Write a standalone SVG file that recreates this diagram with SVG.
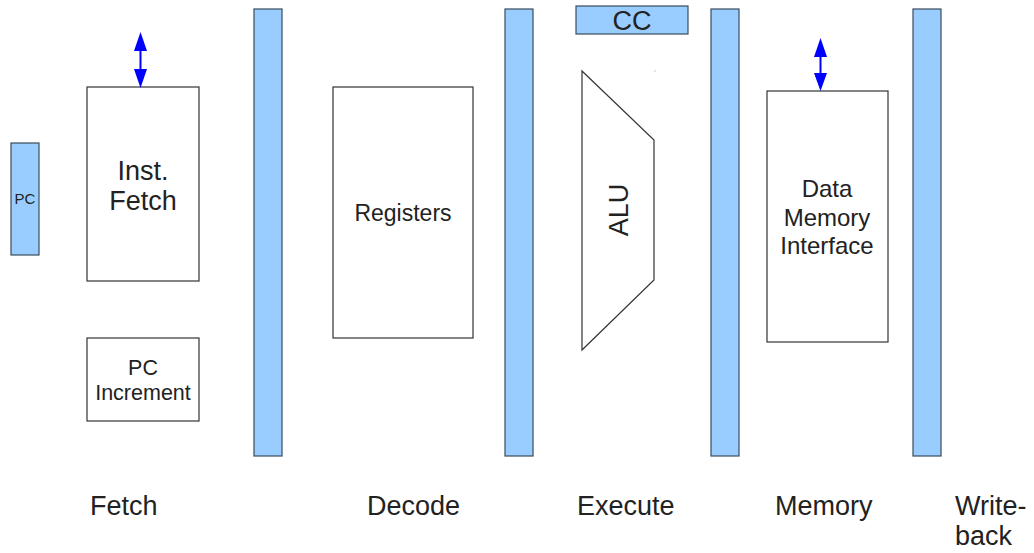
<svg xmlns="http://www.w3.org/2000/svg" width="1034" height="553" viewBox="0 0 1034 553">
<style>
.bar{fill:#99ccff;stroke:#3b4b5b;stroke-width:1.2}
.box{fill:#fff;stroke:#333;stroke-width:1.2}
text{font-family:"Liberation Sans",Arial,sans-serif;fill:#222;text-anchor:middle}
.big{font-size:27px}
.mid{font-size:22px}
.lbl{font-size:27px;text-anchor:start}
.arr{stroke:#0000ff;stroke-width:2;fill:none}
.head{fill:#0000ff}
</style>
<rect width="1034" height="553" fill="#fff"/>
<g id="pc"><rect class="bar" x="11" y="143" width="28" height="112"/><text x="25" y="204" style="font-size:15px">PC</text></g>
<g id="inst-fetch"><rect class="box" x="87" y="87" width="112" height="194"/><text class="big" x="143" y="180">Inst.</text><text class="big" x="143" y="210">Fetch</text></g>
<g id="pc-increment"><rect class="box" x="87" y="338" width="112" height="83"/><text class="mid" x="143" y="375" style="font-size:21.5px">PC</text><text class="mid" x="143" y="400" style="font-size:21.5px">Increment</text></g>
<g id="bar1"><rect class="bar" x="254" y="9" width="28" height="447"/></g>
<g id="registers"><rect class="box" x="333" y="87" width="140" height="251"/><text class="mid" x="403" y="221" style="font-size:23px">Registers</text></g>
<g id="bar2"><rect class="bar" x="505" y="9" width="28" height="447"/></g>
<g id="cc"><rect class="bar" x="576" y="6" width="112" height="28"/><text class="big" x="632" y="30">CC</text></g>
<g id="alu"><polygon class="box" points="582,71 654,140 654,280 582,350"/><text class="big" transform="translate(628,210) rotate(-90)">ALU</text><rect x="654.5" y="70.5" width="1" height="1" fill="#999"/></g>
<g id="bar3"><rect class="bar" x="711" y="9" width="28" height="447"/></g>
<g id="data-memory"><rect class="box" x="767" y="91" width="121" height="251"/><text x="827" y="197" style="font-size:24px">Data</text><text x="827" y="226" style="font-size:24px">Memory</text><text x="827" y="254" style="font-size:24px">Interface</text></g>
<g id="bar4"><rect class="bar" x="913" y="9" width="28" height="447"/></g>
<g id="connectors">
<line class="arr" x1="140.5" y1="50" x2="140.5" y2="71"/>
<polygon class="head" points="140.5,32 134,51 147,51"/>
<polygon class="head" points="140.5,88 134,69 147,69"/>
<line class="arr" x1="820.5" y1="56" x2="820.5" y2="74"/>
<polygon class="head" points="820.5,38 814,57 827,57"/>
<polygon class="head" points="820.5,91 814,73 827,73"/>
</g>
<g id="stage-labels">
<text class="lbl" x="90" y="515">Fetch</text>
<text class="lbl" x="367" y="515">Decode</text>
<text class="lbl" x="577" y="515">Execute</text>
<text class="lbl" x="775" y="515">Memory</text>
<text class="lbl" x="955" y="515">Write-</text>
<text class="lbl" x="955" y="545">back</text>
</g>
</svg>
